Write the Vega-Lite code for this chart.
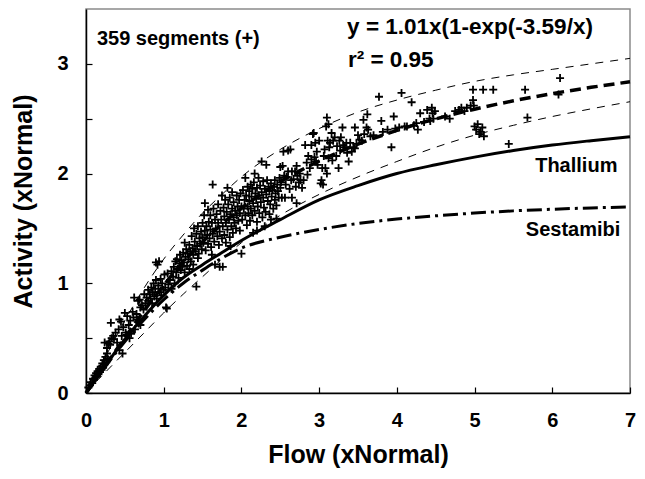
{
  "$schema": "https://vega.github.io/schema/vega-lite/v6.json",
  "width": 544,
  "height": 384,
  "autosize": {"type": "none"},
  "padding": {"left": 86, "top": 9, "right": 15, "bottom": 86},
  "background": "white",
  "config": {
    "view": {"stroke": "#8a8a8a", "strokeWidth": 1.5},
    "font": "Liberation Sans",
    "axis": {
      "grid": false,
      "domainColor": "black",
      "domainWidth": 1.5,
      "tickColor": "black",
      "tickWidth": 1.2,
      "tickSize": -6,
      "labelFont": "Liberation Sans",
      "labelFontWeight": "bold",
      "labelFontSize": 20,
      "labelColor": "black",
      "titleFont": "Liberation Sans",
      "titleFontWeight": "bold",
      "titleFontSize": 25,
      "titleColor": "black",
      "labelFlush": false,
      "labelOverlap": false
    }
  },
  "datasets": {
    "points": [
      {"x":0.03,"y":0.05},{"x":0.05,"y":0.07},{"x":0.06,"y":0.1},{"x":0.08,"y":0.09},{"x":0.09,"y":0.13},{"x":0.1,"y":0.12},{"x":0.11,"y":0.16},{"x":0.12,"y":0.14},{"x":0.13,"y":0.18},{"x":0.14,"y":0.15},{"x":0.15,"y":0.2},{"x":0.16,"y":0.17},{"x":0.17,"y":0.22},{"x":0.18,"y":0.19},{"x":0.19,"y":0.24},{"x":0.2,"y":0.21},{"x":0.21,"y":0.27},{"x":0.22,"y":0.23},{"x":0.23,"y":0.3},{"x":0.24,"y":0.26},{"x":0.25,"y":0.33},{"x":0.26,"y":0.28},{"x":0.27,"y":0.36},{"x":0.28,"y":0.31},{"x":0.29,"y":0.45},{"x":0.3,"y":0.47},{"x":0.31,"y":0.44},{"x":0.32,"y":0.64},{"x":0.24,"y":0.46},{"x":0.27,"y":0.41},
      {"x":0.33,"y":0.5},{"x":0.35,"y":0.52},{"x":0.36,"y":0.49},{"x":0.38,"y":0.55},{"x":0.4,"y":0.46},{"x":0.42,"y":0.58},{"x":0.43,"y":0.67},{"x":0.45,"y":0.65},{"x":0.46,"y":0.52},{"x":0.47,"y":0.36},{"x":0.43,"y":0.39},{"x":0.48,"y":0.6},{"x":0.5,"y":0.73},{"x":0.51,"y":0.55},{"x":0.52,"y":0.53},{"x":0.53,"y":0.7},{"x":0.55,"y":0.62},{"x":0.56,"y":0.5},{"x":0.57,"y":0.66},{"x":0.58,"y":0.54},{"x":0.6,"y":0.74},{"x":0.61,"y":0.69},{"x":0.62,"y":0.87},{"x":0.63,"y":0.58},{"x":0.65,"y":0.72},{"x":0.66,"y":0.67},{"x":0.67,"y":0.84},{"x":0.69,"y":0.85},{"x":0.7,"y":0.78},{"x":0.7,"y":0.62},
      {"x":0.72,"y":0.8},{"x":0.74,"y":0.76},{"x":0.75,"y":0.9},{"x":0.77,"y":0.82},{"x":0.78,"y":0.87},{"x":0.8,"y":0.94},{"x":0.8,"y":0.84},{"x":0.82,"y":0.9},{"x":0.83,"y":0.86},{"x":0.84,"y":0.96},{"x":0.85,"y":0.82},{"x":0.86,"y":0.92},{"x":0.87,"y":1.0},{"x":0.88,"y":0.88},{"x":0.89,"y":0.95},{"x":0.9,"y":1.19},{"x":0.9,"y":1.03},{"x":0.91,"y":0.86},{"x":0.92,"y":1.17},{"x":0.93,"y":0.98},{"x":0.94,"y":1.2},{"x":0.95,"y":0.92},{"x":0.96,"y":1.04},{"x":0.97,"y":0.89},{"x":0.98,"y":1.0},{"x":1.0,"y":0.94},{"x":1.01,"y":1.08},{"x":1.02,"y":0.96},{"x":1.03,"y":0.78},{"x":1.04,"y":0.77},{"x":1.05,"y":1.09},{"x":1.06,"y":0.99},{"x":1.08,"y":1.03},{"x":1.1,"y":1.11},{"x":1.1,"y":0.95},
      {"x":1.12,"y":1.06},{"x":1.13,"y":1.15},{"x":1.14,"y":1.0},{"x":1.15,"y":1.2},{"x":1.16,"y":1.1},{"x":1.17,"y":1.22},{"x":1.18,"y":1.13},{"x":1.19,"y":1.05},{"x":1.2,"y":1.18},{"x":1.21,"y":1.26},{"x":1.22,"y":1.12},{"x":1.23,"y":1.21},{"x":1.24,"y":1.15},{"x":1.25,"y":1.28},{"x":1.26,"y":1.19},{"x":1.27,"y":1.37},{"x":1.27,"y":1.1},{"x":1.28,"y":1.24},{"x":1.29,"y":1.31},{"x":1.3,"y":1.16},{"x":1.31,"y":1.27},{"x":1.32,"y":1.22},{"x":1.33,"y":1.35},{"x":1.34,"y":1.29},{"x":1.35,"y":1.2},{"x":1.36,"y":1.43},{"x":1.37,"y":1.32},{"x":1.38,"y":1.26},{"x":1.39,"y":1.5},{"x":1.4,"y":1.38},{"x":1.41,"y":1.29},{"x":1.42,"y":0.97},{"x":1.42,"y":1.45},{"x":1.43,"y":1.34},{"x":1.44,"y":1.52},{"x":1.45,"y":1.27},{"x":1.46,"y":1.41},{"x":1.47,"y":1.36},{"x":1.48,"y":1.47},{"x":1.49,"y":1.31},{"x":1.5,"y":1.55},{"x":1.5,"y":1.42},{"x":1.44,"y":1.23},{"x":1.38,"y":1.17},{"x":1.33,"y":1.13},
      {"x":1.51,"y":1.37},{"x":1.52,"y":1.62},{"x":1.53,"y":1.73},{"x":1.53,"y":1.48},{"x":1.54,"y":1.3},{"x":1.55,"y":1.52},{"x":1.56,"y":1.44},{"x":1.57,"y":1.67},{"x":1.57,"y":1.36},{"x":1.58,"y":1.56},{"x":1.59,"y":1.41},{"x":1.6,"y":1.62},{"x":1.6,"y":1.49},{"x":1.61,"y":1.33},{"x":1.62,"y":1.55},{"x":1.63,"y":1.9},{"x":1.63,"y":1.45},{"x":1.64,"y":1.68},{"x":1.65,"y":1.38},{"x":1.66,"y":1.58},{"x":1.66,"y":1.17},{"x":1.67,"y":1.5},{"x":1.68,"y":1.63},{"x":1.69,"y":1.43},{"x":1.7,"y":1.72},{"x":1.7,"y":1.55},{"x":1.71,"y":1.35},{"x":1.72,"y":1.47},{"x":1.72,"y":1.15},{"x":1.73,"y":1.66},{"x":1.74,"y":1.58},{"x":1.75,"y":1.8},{"x":1.75,"y":1.41},{"x":1.76,"y":1.52},{"x":1.76,"y":1.15},{"x":1.77,"y":1.69},{"x":1.78,"y":1.61},{"x":1.78,"y":1.44},{"x":1.79,"y":1.76},{"x":1.8,"y":1.55},{"x":1.8,"y":1.37},{"x":1.81,"y":1.65},{"x":1.82,"y":1.87},{"x":1.82,"y":1.49},{"x":1.83,"y":1.72},{"x":1.84,"y":1.58},{"x":1.85,"y":1.42},{"x":1.85,"y":1.78},{"x":1.86,"y":1.63},{"x":1.87,"y":1.52},{"x":1.88,"y":1.68},{"x":1.88,"y":1.83},{"x":1.89,"y":1.46},{"x":1.9,"y":1.6},{"x":1.9,"y":1.74},{"x":1.91,"y":1.55},{"x":1.92,"y":1.66},{"x":1.93,"y":1.5},{"x":1.94,"y":1.8},{"x":1.94,"y":1.62},{"x":1.95,"y":1.7},{"x":1.96,"y":1.57},{"x":1.97,"y":1.76},{"x":1.98,"y":1.64},{"x":1.98,"y":1.48},{"x":1.99,"y":1.82},{"x":2.0,"y":1.27},{"x":2.0,"y":1.7},{"x":1.86,"y":1.34},{"x":1.62,"y":1.26},
      {"x":2.01,"y":1.58},{"x":2.02,"y":1.85},{"x":2.03,"y":1.68},{"x":2.04,"y":1.76},{"x":2.05,"y":1.96},{"x":2.05,"y":1.62},{"x":2.06,"y":1.8},{"x":2.07,"y":1.53},{"x":2.08,"y":1.88},{"x":2.08,"y":1.7},{"x":2.09,"y":1.64},{"x":2.1,"y":1.84},{"x":2.1,"y":1.75},{"x":2.11,"y":1.57},{"x":2.12,"y":1.9},{"x":2.12,"y":1.68},{"x":2.13,"y":1.79},{"x":2.14,"y":1.86},{"x":2.14,"y":1.62},{"x":2.15,"y":1.73},{"x":2.16,"y":1.92},{"x":2.17,"y":2.0},{"x":2.17,"y":1.66},{"x":2.18,"y":1.82},{"x":2.19,"y":1.77},{"x":2.2,"y":1.87},{"x":2.2,"y":1.56},{"x":2.21,"y":1.7},{"x":2.22,"y":1.96},{"x":2.22,"y":1.8},{"x":2.23,"y":1.64},{"x":2.24,"y":1.89},{"x":2.25,"y":1.74},{"x":2.26,"y":2.11},{"x":2.26,"y":1.83},{"x":2.27,"y":1.6},{"x":2.28,"y":1.93},{"x":2.28,"y":1.78},{"x":2.29,"y":1.69},{"x":2.3,"y":1.86},{"x":2.31,"y":1.65},{"x":2.32,"y":2.08},{"x":2.32,"y":1.81},{"x":2.33,"y":1.94},{"x":2.34,"y":1.75},{"x":2.35,"y":1.88},{"x":2.36,"y":1.63},{"x":2.36,"y":1.84},{"x":2.37,"y":1.72},{"x":2.38,"y":1.91},{"x":2.39,"y":1.79},{"x":2.4,"y":1.85},{"x":2.41,"y":1.68},{"x":2.42,"y":1.88},{"x":2.43,"y":1.94},{"x":2.43,"y":1.76},{"x":2.44,"y":1.82},{"x":2.45,"y":1.71},{"x":2.46,"y":1.9},{"x":2.47,"y":1.84},{"x":2.48,"y":1.78},{"x":2.49,"y":1.96},{"x":2.5,"y":1.87},{"x":2.5,"y":2.06},{"x":2.51,"y":1.92},{"x":2.45,"y":1.59},{"x":2.2,"y":1.48},{"x":2.15,"y":1.46},{"x":2.3,"y":1.52},{"x":2.38,"y":1.58},
      {"x":2.52,"y":1.78},{"x":2.53,"y":2.07},{"x":2.54,"y":2.2},{"x":2.55,"y":1.98},{"x":2.56,"y":1.78},{"x":2.57,"y":1.9},{"x":2.58,"y":1.97},{"x":2.6,"y":2.02},{"x":2.62,"y":1.86},{"x":2.63,"y":2.22},{"x":2.64,"y":1.94},{"x":2.65,"y":1.78},{"x":2.65,"y":2.02},{"x":2.67,"y":1.95},{"x":2.69,"y":2.02},{"x":2.7,"y":1.88},{"x":2.71,"y":2.07},{"x":2.71,"y":1.73},{"x":2.72,"y":1.98},{"x":2.74,"y":1.92},{"x":2.75,"y":2.0},{"x":2.76,"y":1.94},{"x":2.78,"y":1.87},{"x":2.8,"y":1.94},{"x":2.82,"y":2.26},{"x":2.84,"y":2.1},{"x":2.86,"y":2.16},{"x":2.88,"y":2.05},{"x":2.9,"y":2.13},{"x":2.92,"y":2.36},{"x":2.93,"y":2.37},{"x":2.94,"y":2.15},{"x":2.95,"y":2.28},{"x":2.96,"y":2.11},{"x":2.97,"y":2.2},{"x":2.98,"y":2.08},{"x":3.0,"y":2.3},{"x":2.6,"y":2.21},{"x":2.85,"y":1.99},{"x":2.9,"y":2.26},
      {"x":3.02,"y":1.91},{"x":3.03,"y":1.94},{"x":3.04,"y":2.05},{"x":3.05,"y":1.9},{"x":3.06,"y":2.16},{"x":3.07,"y":2.22},{"x":3.08,"y":2.05},{"x":3.09,"y":2.43},{"x":3.1,"y":2.0},{"x":3.1,"y":2.51},{"x":3.11,"y":2.3},{"x":3.12,"y":2.14},{"x":3.12,"y":2.45},{"x":3.13,"y":2.24},{"x":3.14,"y":2.28},{"x":3.16,"y":2.37},{"x":3.17,"y":2.12},{"x":3.18,"y":2.3},{"x":3.2,"y":2.33},{"x":3.22,"y":2.16},{"x":3.23,"y":2.25},{"x":3.25,"y":2.05},{"x":3.26,"y":2.3},{"x":3.27,"y":2.21},{"x":3.28,"y":2.33},{"x":3.3,"y":2.42},{"x":3.31,"y":2.26},{"x":3.33,"y":2.24},{"x":3.35,"y":2.28},{"x":3.36,"y":2.19},{"x":3.38,"y":2.11},{"x":3.4,"y":2.28},{"x":3.42,"y":2.2},{"x":3.44,"y":2.24},{"x":3.46,"y":2.42},{"x":3.46,"y":2.23},{"x":3.48,"y":2.27},{"x":3.5,"y":2.35},{"x":3.52,"y":2.31},{"x":3.55,"y":2.3},{"x":3.57,"y":2.49},{"x":3.58,"y":2.36},
      {"x":3.61,"y":2.42},{"x":3.62,"y":2.54},{"x":3.63,"y":2.4},{"x":3.66,"y":2.34},{"x":3.7,"y":2.35},{"x":3.77,"y":2.7},{"x":3.8,"y":2.48},{"x":3.82,"y":2.38},{"x":3.88,"y":2.4},{"x":3.93,"y":2.24},{"x":3.96,"y":2.52},{"x":3.98,"y":2.41},{"x":4.03,"y":2.42},{"x":4.06,"y":2.735},{"x":4.1,"y":2.43},{"x":4.13,"y":2.43},{"x":4.19,"y":2.65},{"x":4.22,"y":2.44},{"x":4.25,"y":2.46},{"x":4.27,"y":2.4},{"x":4.3,"y":2.55},{"x":4.35,"y":2.47},{"x":4.39,"y":2.58},{"x":4.42,"y":2.5},{"x":4.43,"y":2.48},{"x":4.45,"y":2.6},{"x":4.46,"y":2.55},{"x":4.49,"y":2.57},{"x":4.47,"y":2.5},
      {"x":4.62,"y":2.52},{"x":4.68,"y":2.5},{"x":4.75,"y":2.57},{"x":4.8,"y":2.58},{"x":4.83,"y":2.6},{"x":4.87,"y":2.57},{"x":4.9,"y":2.6},{"x":4.95,"y":2.62},{"x":4.98,"y":2.765},{"x":4.98,"y":2.67},{"x":4.99,"y":2.62},{"x":5.0,"y":2.43},{"x":5.02,"y":2.4},{"x":5.04,"y":2.45},{"x":5.06,"y":2.36},{"x":5.08,"y":2.38},{"x":5.1,"y":2.42},{"x":5.12,"y":2.34},{"x":5.11,"y":2.765},{"x":5.24,"y":2.765},{"x":5.44,"y":2.27},{"x":5.65,"y":2.765},{"x":5.68,"y":2.51},{"x":6.08,"y":2.72},{"x":6.1,"y":2.87}
    ],
    "fit": [
      {"x":0,"y":0},{"x":0.1,"y":0.101},{"x":0.25,"y":0.2525},{"x":0.5,"y":0.5046},{"x":0.75,"y":0.7512},{"x":1,"y":0.9821},{"x":1.25,"y":1.1911},{"x":1.5,"y":1.3766},{"x":1.75,"y":1.5403},{"x":2,"y":1.6845},{"x":2.25,"y":1.8116},{"x":2.5,"y":1.9244},{"x":2.75,"y":2.0248},{"x":3,"y":2.1144},{"x":3.5,"y":2.2676},{"x":4,"y":2.3934},{"x":4.5,"y":2.4983},{"x":5,"y":2.5869},{"x":5.5,"y":2.663},{"x":6,"y":2.7286},{"x":6.5,"y":2.786},{"x":7,"y":2.8366}
    ],
    "upper": [
      {"x":0,"y":0},{"x":0.1,"y":0.13},{"x":0.25,"y":0.33},{"x":0.5,"y":0.66},{"x":0.75,"y":0.96},{"x":1,"y":1.22},{"x":1.25,"y":1.44},{"x":1.5,"y":1.64},{"x":1.75,"y":1.81},{"x":2,"y":1.97},{"x":2.5,"y":2.22},{"x":3,"y":2.41},{"x":3.5,"y":2.56},{"x":4,"y":2.67},{"x":4.5,"y":2.76},{"x":5,"y":2.84},{"x":5.5,"y":2.9},{"x":6,"y":2.95},{"x":6.5,"y":3.0},{"x":7,"y":3.05}
    ],
    "lower": [
      {"x":0,"y":0},{"x":0.1,"y":0.08},{"x":0.25,"y":0.19},{"x":0.5,"y":0.37},{"x":0.75,"y":0.55},{"x":1,"y":0.73},{"x":1.25,"y":0.9},{"x":1.5,"y":1.06},{"x":1.75,"y":1.22},{"x":2,"y":1.37},{"x":2.5,"y":1.62},{"x":3,"y":1.81},{"x":3.5,"y":1.97},{"x":4,"y":2.11},{"x":4.5,"y":2.24},{"x":5,"y":2.35},{"x":5.5,"y":2.44},{"x":6,"y":2.52},{"x":6.5,"y":2.59},{"x":7,"y":2.655}
    ],
    "thallium": [
      {"x":0,"y":0},{"x":0.25,"y":0.25},{"x":0.5,"y":0.49},{"x":0.75,"y":0.7},{"x":1,"y":0.89},{"x":1.25,"y":1.05},{"x":1.5,"y":1.17},{"x":1.75,"y":1.28},{"x":2,"y":1.39},{"x":2.5,"y":1.58},{"x":3,"y":1.76},{"x":3.5,"y":1.89},{"x":4,"y":2.0},{"x":4.5,"y":2.08},{"x":5,"y":2.15},{"x":5.5,"y":2.21},{"x":6,"y":2.26},{"x":6.5,"y":2.3},{"x":7,"y":2.336}
    ],
    "sestamibi": [
      {"x":0,"y":0},{"x":0.25,"y":0.24},{"x":0.5,"y":0.47},{"x":0.75,"y":0.67},{"x":1,"y":0.85},{"x":1.25,"y":1.0},{"x":1.5,"y":1.12},{"x":1.75,"y":1.23},{"x":2,"y":1.32},{"x":2.5,"y":1.42},{"x":3,"y":1.49},{"x":3.5,"y":1.545},{"x":4,"y":1.585},{"x":4.5,"y":1.615},{"x":5,"y":1.64},{"x":5.5,"y":1.66},{"x":6,"y":1.675},{"x":6.5,"y":1.687},{"x":7,"y":1.695}
    ],
    "notes": [
      {"label": "359 segments (+)"},
      {"label": "y = 1.01x(1-exp(-3.59/x)"},
      {"label": "r² = 0.95"},
      {"label": "Thallium"},
      {"label": "Sestamibi"}
    ]
  },
  "layer": [
    {"data": {"name": "points"},
     "mark": {"type": "point", "shape": "M-1,0L1,0M0,-1L0,1", "filled": false, "stroke": "black", "strokeWidth": 1.8, "size": 64, "opacity": 1},
     "encoding": {
       "x": {
         "field": "x", "type": "quantitative",
         "scale": {"domain": [0, 7], "nice": false, "zero": false},
         "axis": {
           "title": "Flow (xNormal)",
           "values": [0,0.5,1,1.5,2,2.5,3,3.5,4,4.5,5,5.5,6,6.5,7],
           "labelExpr": "datum.value % 1 === 0 ? format(datum.value, 'd') : ''",
           "labelPadding": 23,
           "titlePadding": 12
         }
       },
       "y": {
         "field": "y", "type": "quantitative",
         "scale": {"domain": [0, 3.5], "nice": false, "zero": false},
         "axis": {
           "title": "Activity (xNormal)",
           "values": [0,0.5,1,1.5,2,2.5,3],
           "labelExpr": "datum.value % 1 === 0 ? format(datum.value, 'd') : ''",
           "labelPadding": 24,
           "titlePadding": 20
         }
       }
     }},
    {"data": {"name": "upper"}, "mark": {"type": "line", "color": "black", "strokeWidth": 1, "strokeDash": [8, 7], "interpolate": "monotone"},
     "encoding": {"x": {"field": "x", "type": "quantitative"}, "y": {"field": "y", "type": "quantitative"}}},
    {"data": {"name": "lower"}, "mark": {"type": "line", "color": "black", "strokeWidth": 1, "strokeDash": [8, 7], "interpolate": "monotone"},
     "encoding": {"x": {"field": "x", "type": "quantitative"}, "y": {"field": "y", "type": "quantitative"}}},
    {"data": {"name": "thallium"}, "mark": {"type": "line", "color": "black", "strokeWidth": 3, "interpolate": "monotone"},
     "encoding": {"x": {"field": "x", "type": "quantitative"}, "y": {"field": "y", "type": "quantitative"}}},
    {"data": {"name": "sestamibi"}, "mark": {"type": "line", "color": "black", "strokeWidth": 3, "strokeDash": [15, 5, 3, 5], "interpolate": "monotone"},
     "encoding": {"x": {"field": "x", "type": "quantitative"}, "y": {"field": "y", "type": "quantitative"}}},
    {"data": {"name": "fit"}, "mark": {"type": "line", "color": "black", "strokeWidth": 3.5, "strokeDash": [11, 6], "interpolate": "monotone"},
     "encoding": {"x": {"field": "x", "type": "quantitative"}, "y": {"field": "y", "type": "quantitative"}}},
    {"data": {"name": "notes"}, "transform": [{"filter": "datum.label === '359 segments (+)'"}],
     "mark": {"type": "text", "align": "left", "baseline": "alphabetic", "fontSize": 20, "fontWeight": "bold", "font": "Liberation Sans", "fill": "black"},
     "encoding": {"x": {"datum": 0.14}, "y": {"datum": 3.175}, "text": {"field": "label"}}},
    {"data": {"name": "notes"}, "transform": [{"filter": "datum.label === 'y = 1.01x(1-exp(-3.59/x)'"}],
     "mark": {"type": "text", "align": "left", "baseline": "alphabetic", "fontSize": 22.5, "fontWeight": "bold", "font": "Liberation Sans", "fill": "black"},
     "encoding": {"x": {"datum": 3.36}, "y": {"datum": 3.27}, "text": {"field": "label"}}},
    {"data": {"name": "notes"}, "transform": [{"filter": "datum.label === 'r² = 0.95'"}],
     "mark": {"type": "text", "align": "left", "baseline": "alphabetic", "fontSize": 22.5, "fontWeight": "bold", "font": "Liberation Sans", "fill": "black"},
     "encoding": {"x": {"datum": 3.37}, "y": {"datum": 2.975}, "text": {"field": "label"}}},
    {"data": {"name": "notes"}, "transform": [{"filter": "datum.label === 'Thallium'"}],
     "mark": {"type": "text", "align": "left", "baseline": "alphabetic", "fontSize": 20, "fontWeight": "bold", "font": "Liberation Sans", "fill": "black"},
     "encoding": {"x": {"datum": 5.78}, "y": {"datum": 2.017}, "text": {"field": "label"}}},
    {"data": {"name": "notes"}, "transform": [{"filter": "datum.label === 'Sestamibi'"}],
     "mark": {"type": "text", "align": "left", "baseline": "alphabetic", "fontSize": 20, "fontWeight": "bold", "font": "Liberation Sans", "fill": "black"},
     "encoding": {"x": {"datum": 5.66}, "y": {"datum": 1.434}, "text": {"field": "label"}}}
  ]
}
